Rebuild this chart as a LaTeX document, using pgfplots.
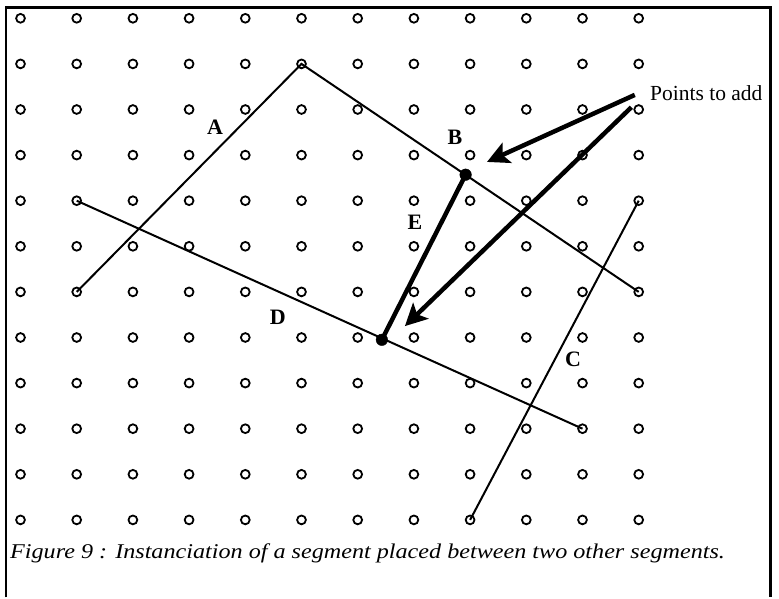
\documentclass[border=0pt]{standalone}
\usepackage{fontspec}
\setmainfont{Liberation Serif}
\newfontfamily\capfont[FakeStretch=1.15]{Liberation Serif}
\usepackage{pgfplots}
\pgfplotsset{compat=1.18}
\usetikzlibrary{arrows.meta}
\begin{document}
\begin{tikzpicture}
\begin{axis}[
  scale only axis, width=779pt, height=594pt,
  xmin=-0.3648, xmax=13.4964, ymin=-0.4013, ymax=12.625,
  y dir=reverse, hide axis, clip=false]
\path (rel axis cs:0,0) rectangle (rel axis cs:1,1);
% frame
\draw[line width=2.8pt] (axis cs:-0.258,12.7) -- (axis cs:-0.258,-0.237) -- (axis cs:13.345,-0.237) -- (axis cs:13.345,12.7);
% grid of points
\addplot[only marks, mark=o, mark size=4.4pt, mark options={line width=1.8pt}] coordinates {
(0,0)(1,0)(2,0)(3,0)(4,0)(5,0)(6,0)(7,0)(8,0)(9,0)(10,0)(11,0)
(0,1)(1,1)(2,1)(3,1)(4,1)(5,1)(6,1)(7,1)(8,1)(9,1)(10,1)(11,1)
(0,2)(1,2)(2,2)(3,2)(4,2)(5,2)(6,2)(7,2)(8,2)(9,2)(10,2)(11,2)
(0,3)(1,3)(2,3)(3,3)(4,3)(5,3)(6,3)(7,3)(8,3)(9,3)(10,3)(11,3)
(0,4)(1,4)(2,4)(3,4)(4,4)(5,4)(6,4)(7,4)(8,4)(9,4)(10,4)(11,4)
(0,5)(1,5)(2,5)(3,5)(4,5)(5,5)(6,5)(7,5)(8,5)(9,5)(10,5)(11,5)
(0,6)(1,6)(2,6)(3,6)(4,6)(5,6)(6,6)(7,6)(8,6)(9,6)(10,6)(11,6)
(0,7)(1,7)(2,7)(3,7)(4,7)(5,7)(6,7)(7,7)(8,7)(9,7)(10,7)(11,7)
(0,8)(1,8)(2,8)(3,8)(4,8)(5,8)(6,8)(7,8)(8,8)(9,8)(10,8)(11,8)
(0,9)(1,9)(2,9)(3,9)(4,9)(5,9)(6,9)(7,9)(8,9)(9,9)(10,9)(11,9)
(0,10)(1,10)(2,10)(3,10)(4,10)(5,10)(6,10)(7,10)(8,10)(9,10)(10,10)(11,10)
(0,11)(1,11)(2,11)(3,11)(4,11)(5,11)(6,11)(7,11)(8,11)(9,11)(10,11)(11,11)
};
% segments A, B
\addplot[line width=2pt, mark=none] coordinates {(1,6) (5,1) (11,6)};
% segment D
\addplot[line width=2pt, mark=none] coordinates {(1,4) (10,9)};
% segment C
\addplot[line width=2pt, mark=none] coordinates {(8,11) (11,4)};
% segment E
\addplot[line width=4.5pt, mark=none] coordinates {(7.92,3.43) (6.43,7.05)};
\addplot[only marks, mark=*, mark size=5.8pt] coordinates {(7.92,3.43) (6.43,7.05)};
% arrows
\addplot[line width=4.5pt, mark=none, -{Stealth[length=22pt, width=22pt, inset=5pt]}] coordinates {(10.93,1.68) (8.3,3.15)};
\addplot[line width=4.5pt, mark=none, -{Stealth[length=22pt, width=22pt, inset=5pt]}] coordinates {(10.87,1.95) (6.84,6.75)};
% labels
\node[font=\bfseries\fontsize{22}{26}\selectfont, inner sep=0] at (axis cs:3.46,2.39) {A};
\node[font=\bfseries\fontsize{22}{26}\selectfont, inner sep=0] at (axis cs:7.73,2.60) {B};
\node[font=\bfseries\fontsize{22}{26}\selectfont, inner sep=0] at (axis cs:9.83,7.47) {C};
\node[font=\bfseries\fontsize{22}{26}\selectfont, inner sep=0] at (axis cs:4.58,6.55) {D};
\node[font=\bfseries\fontsize{22}{26}\selectfont, inner sep=0] at (axis cs:7.02,4.47) {E};
\node[anchor=west, inner sep=0, font=\fontsize{21.5}{26}\selectfont] at (axis cs:11.2,1.64) {Points to add};
\node[anchor=base west, inner sep=0, font=\capfont\itshape\fontsize{21}{26}\selectfont] at (axis cs:-0.187,11.857) {Figure 9 : Instanciation of a segment placed between two other segments.};
\end{axis}
\end{tikzpicture}
\end{document}
